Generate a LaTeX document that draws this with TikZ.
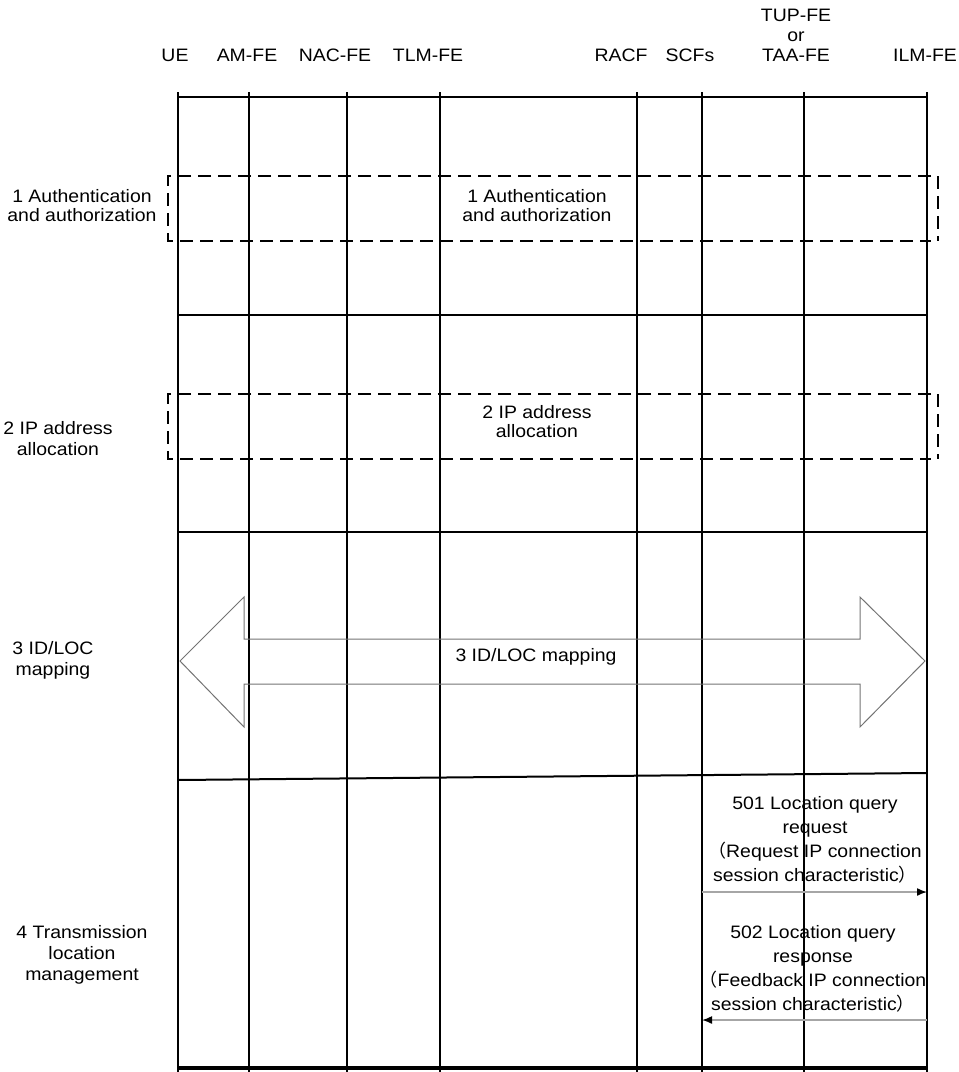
\documentclass[tikz,border=0pt]{standalone}
\usepackage{fontspec}
\setmainfont{Liberation Sans}[FakeStretch=1.08]
\newfontfamily\cjkfont{Noto Sans CJK SC}
\usetikzlibrary{arrows.meta}
\newcommand{\flp}{{\cjkfont （}}
\newcommand{\frp}{{\cjkfont ）}}
\begin{document}
\begin{tikzpicture}[x=1pt,y=-1pt,
  every node/.style={font=\fontsize{18}{21}\selectfont, align=center, inner sep=0pt},
  life/.style={line width=2pt, black},
  hline/.style={line width=2pt, black},
  dbox/.style={line width=2pt, black, dash pattern=on 13pt off 7pt},
  bigarrow/.style={line width=1pt, color=black!55},
  msg/.style={line width=1.5pt, color=black!35, -{Latex[color=black,length=10pt,width=8pt]}},
  tight/.style={font=\fontsize{18}{19}\selectfont},
  wide/.style={font=\fontsize{18}{24}\selectfont}]
\useasboundingbox (0,0) rectangle (959,1072);

% lifelines
\foreach \n/\x in {ue/178, am/249, nac/347, tlm/440, racf/637, scf/702, tup/804, ilm/927} {
  \coordinate (\n-t) at (\x,92);
  \coordinate (\n-b) at (\x,1072);
  \draw[life] (\n-t) -- (\n-b);
}

% header labels
\node (hUE)   at (175,55) {UE};
\node (hAM)   at (247,55) {AM-FE};
\node (hNAC)  at (335,55) {NAC-FE};
\node (hTLM)  at (428,55) {TLM-FE};
\node (hRACF) at (621,55) {RACF};
\node (hSCF)  at (690,55) {SCFs};
\node[font=\fontsize{18}{20}\selectfont] (hTUP) at (796,35) {TUP-FE\\or\\TAA-FE};
\node (hILM)  at (925,55) {ILM-FE};

% horizontal separators
\coordinate (s0l) at (178,97);   \coordinate (s0r) at (927,97);
\coordinate (s1l) at (178,315);  \coordinate (s1r) at (927,315);
\coordinate (s2l) at (178,532);  \coordinate (s2r) at (927,532);
\coordinate (s3l) at (178,780);  \coordinate (s3r) at (927,773);
\coordinate (s4l) at (178,1068); \coordinate (s4r) at (927,1068);
\draw[hline, line width=2.5pt] (s0l) -- (s0r);
\draw[hline] (s1l) -- (s1r);
\draw[hline] (s2l) -- (s2r);
\draw[hline] (s3l) -- (s3r);
\draw[hline, line width=3.5pt] (s4l) -- (s4r);

% dashed box 1
\draw[dbox] (931,176) -- (168,176) -- (168,241) -- (931,241);
\draw[dbox] (938,176) -- (938,241);
% dashed box 2
\draw[dbox] (931,394) -- (168,394) -- (168,459) -- (931,459);
\draw[dbox] (938,394) -- (938,459);

\node[tight] (b1) at (537,206) {1 Authentication\\and authorization};
\node[tight] (b2) at (537,422) {2 IP address\\allocation};

% big double arrow
\draw[bigarrow] (180,661) -- (244,597) -- (244,639) -- (860,639) -- (860,597)
  -- (925,661) -- (860,727) -- (860,684) -- (244,684) -- (244,727) -- cycle;
\node (b3) at (536,657) {3 ID/LOC mapping};

% left step labels
\node[tight] (l1) at (82,206) {1 Authentication\\and authorization};
\node (l2) at (58,439) {2 IP address\\allocation};
\node (l3) at (53,660) {3 ID/LOC\\mapping};
\node (l4) at (82,955) {4 Transmission\\location\\management};

% messages
\coordinate (m1s) at (702,892); \coordinate (m1e) at (927,892);
\coordinate (m2s) at (927,1020); \coordinate (m2e) at (702,1020);
\draw[msg] (m1s) -- (m1e);
\draw[msg] (m2s) -- (m2e);
\node[wide] (t501) at (815,840) {501 Location query\\request\\\flp Request IP connection\\session characteristic\frp};
\node[wide] (t502) at (813,969) {502 Location query\\response\\\flp Feedback IP connection\\session characteristic\frp};
\end{tikzpicture}
\end{document}
